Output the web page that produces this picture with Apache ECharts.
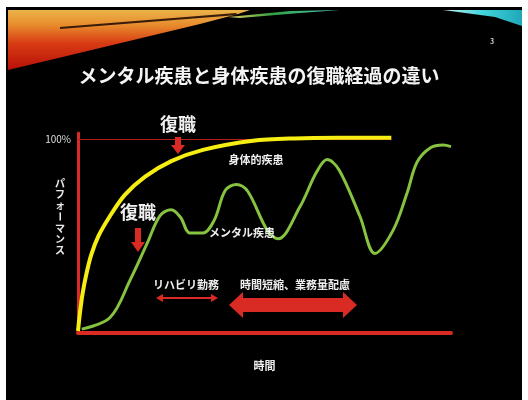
<!DOCTYPE html>
<html>
<head>
<meta charset="utf-8">
<script src="https://cdn.jsdelivr.net/npm/echarts@6/dist/echarts.min.js"></script>
<style>
  html, body { margin: 0; padding: 0; background: #fff; }
  #chart { width: 528px; height: 400px; }
</style>
</head>
<body>
<div id="chart"></div>
<script>
// data (time 0-100, performance %)
var physical = [[0, 1], [0.5, 10], [1.2, 20], [2.2, 30], [3.5, 40], [5.5, 50], [8.5, 60],
  [12.5, 71], [18, 80.5], [25, 88.5], [33.5, 94.3], [46.9, 99], [58, 100.2], [70, 100.5], [84, 100.5]];
var mental = [[1, 2], [8.6, 8], [13.9, 27], [18.5, 46], [22, 60.5], [25, 63.5], [27.5, 59.5],
  [30, 51.5], [33.5, 51.5], [36.5, 58], [39.5, 73.5], [42.5, 76.5], [45.5, 73], [50.7, 53], [53.6, 48.5],
  [59.5, 65], [64, 83], [66.8, 89.3], [70, 84], [75.6, 60], [79.6, 41], [84.5, 53], [88.2, 72],
  [90.9, 88], [94.4, 95.3], [97.9, 96.8], [100, 96]];
var yTicks = [0, 100];
var yName = ['パ', 'フ', 'ォ', 'ー', 'マ', 'ン', 'ス'];

var RED = '#d92a24';
var FONT = '"Noto Sans CJK JP", "Noto Sans", sans-serif';

var mychart = echarts.init(document.getElementById('chart'));

// vertical axis name, one char per row
var nameChars = yName.map(function (c, i) {
  return {
    type: 'text', x: 60, y: 183 + i * 11.2,
    rotation: c === 'ー' ? -Math.PI / 2 : 0,
    style: { text: c, fill: '#e8e8e8', font: 'bold 10px ' + FONT, align: 'center', verticalAlign: 'middle' },
    z: 20
  };
});

option = {
  backgroundColor: '#fff',
  animation: false,
  grid: { left: 78, right: 77, top: 133, bottom: 67 },
  xAxis: {
    type: 'value', min: 0, max: 100,
    name: '時間', nameLocation: 'middle', nameGap: 27,
    nameTextStyle: { color: '#eeeeee', fontSize: 11, fontWeight: 'bold', fontFamily: FONT },
    axisLine: { show: true, onZero: false, lineStyle: { color: RED, width: 4 } },
    axisTick: { show: false }, axisLabel: { show: false }, splitLine: { show: false }
  },
  yAxis: {
    type: 'value', min: 0, max: 103, interval: 100,
    axisLine: { show: true, lineStyle: { color: RED, width: 3 } },
    axisTick: { show: false }, splitLine: { show: false },
    axisLabel: {
      color: '#dddddd', fontSize: 10, fontFamily: FONT, margin: 7,
      formatter: function (v) { return yTicks.indexOf(v) >= 0 && v > 0 ? v + '%' : ''; }
    }
  },
  series: [
    {
      name: '身体的疾患', type: 'line', data: physical, smooth: 0.3,
      symbol: 'none', z: 5,
      lineStyle: { color: '#f6ee12', width: 4 },
      markLine: {
        silent: true, symbol: 'none', label: { show: false },
        lineStyle: { color: '#b3201c', width: 1, type: 'solid' },
        data: [[{ coord: [0, 100] }, { coord: [84, 100] }]]
      }
    },
    {
      name: 'メンタル疾患', type: 'line', data: mental, smooth: 0.35,
      symbol: 'none', z: 4,
      lineStyle: { color: '#86c340', width: 3 }
    }
  ],
  graphic: [
    // slide background
    { type: 'rect', shape: { x: 6, y: 7, width: 516, height: 393 }, style: { fill: '#000' }, z: -10 },
    {
      type: 'polygon', z: -9,
      shape: { points: [[8, 10], [250, 10], [238, 14], [200, 24], [150, 36], [100, 48], [50, 60], [8, 70]] },
      style: {
        fill: new echarts.graphic.LinearGradient(0, 0, 0, 1, [
          { offset: 0, color: '#eab44a' }, { offset: 0.25, color: '#e88c2c' },
          { offset: 0.55, color: '#d83c14' }, { offset: 1, color: '#b81008' }
        ])
      }
    },
    { type: 'polygon', z: -8, shape: { points: [[60, 27], [236, 13], [238, 15], [60, 29]] }, style: { fill: '#3a1c0a' } },
    {
      type: 'polygon', z: -8,
      shape: { points: [[228, 17], [290, 11], [340, 10], [300, 13], [240, 18]] },
      style: {
        fill: new echarts.graphic.LinearGradient(0, 0, 1, 0, [
          { offset: 0, color: '#e8d060' }, { offset: 0.4, color: '#30a040' }, { offset: 1, color: '#50c8c0' }
        ])
      }
    },
    {
      type: 'polygon', z: -8,
      shape: { points: [[443, 10], [522, 10], [522, 26], [495, 17]] },
      style: {
        fill: new echarts.graphic.LinearGradient(0, 0, 1, 0, [
          { offset: 0, color: '#c0f0f0' }, { offset: 0.5, color: '#40d4dc' }, { offset: 1, color: '#20a8b8' }
        ])
      }
    },
    { type: 'text', x: 492, y: 41, style: { text: '3', fill: '#cccccc', font: 'bold 7px ' + FONT, align: 'center', verticalAlign: 'middle' } },
    // title
    { type: 'text', x: 259, y: 76, style: { text: 'メンタル疾患と身体疾患の復職経過の違い', fill: '#f4f4f4', font: 'bold 19px ' + FONT, align: 'center', verticalAlign: 'middle' }, z: 20 },
    // annotations
    { type: 'text', x: 178, y: 124, style: { text: '復職', fill: '#f0f0f0', font: 'bold 18px ' + FONT, align: 'center', verticalAlign: 'middle' }, z: 20 },
    { type: 'polygon', z: 20, shape: { points: [[175, 137], [181, 137], [181, 145], [185, 145], [178, 154], [171, 145], [175, 145]] }, style: { fill: RED } },
    { type: 'text', x: 138, y: 212, style: { text: '復職', fill: '#f0f0f0', font: 'bold 18px ' + FONT, align: 'center', verticalAlign: 'middle' }, z: 20 },
    { type: 'polygon', z: 20, shape: { points: [[135, 228], [141, 228], [141, 242], [145, 242], [138, 252], [131, 242], [135, 242]] }, style: { fill: RED } },
    { type: 'text', x: 256, y: 160, style: { text: '身体的疾患', fill: '#eeeeee', font: 'bold 11px ' + FONT, align: 'center', verticalAlign: 'middle' }, z: 20 },
    { type: 'text', x: 242, y: 233, style: { text: 'メンタル疾患', fill: '#eeeeee', font: 'bold 11px ' + FONT, align: 'center', verticalAlign: 'middle' }, z: 20 },
    { type: 'text', x: 186, y: 285, style: { text: 'リハビリ勤務', fill: '#eeeeee', font: 'bold 11px ' + FONT, align: 'center', verticalAlign: 'middle' }, z: 20 },
    { type: 'text', x: 295, y: 285, style: { text: '時間短縮、業務量配慮', fill: '#eeeeee', font: 'bold 11px ' + FONT, align: 'center', verticalAlign: 'middle' }, z: 20 },
    // small double arrow
    { type: 'polygon', z: 20, shape: { points: [[156, 298], [163, 294], [163, 297], [211, 297], [211, 294], [218, 298], [211, 302], [211, 299], [163, 299], [163, 302]] }, style: { fill: RED } },
    // big double arrow
    { type: 'polygon', z: 20, shape: { points: [[229, 305], [243, 292], [243, 298], [343, 298], [343, 292], [357, 305], [343, 318], [343, 312], [243, 312], [243, 318]] }, style: { fill: RED } },
    { type: 'group', children: nameChars }
  ]
};
mychart.setOption(option);
</script>
</body>
</html>
